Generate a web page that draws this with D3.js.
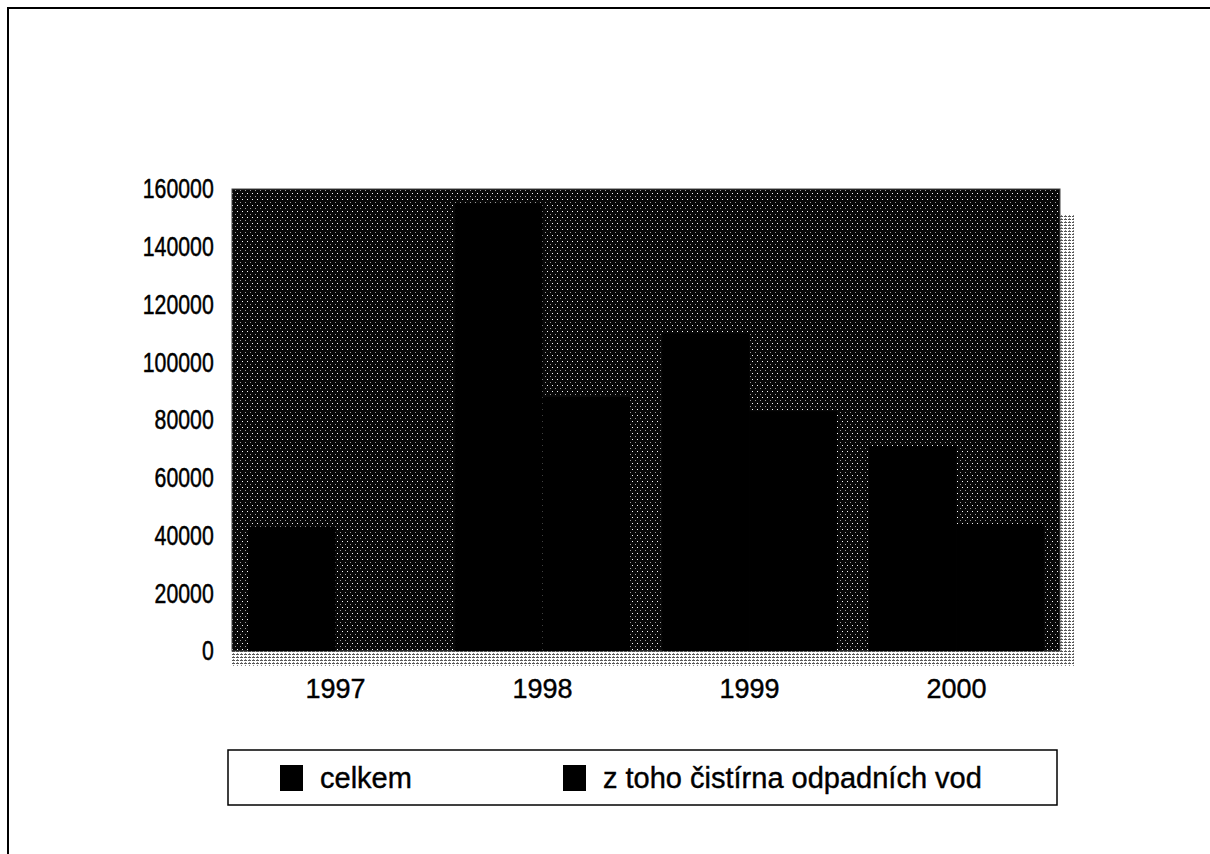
<!DOCTYPE html>
<html>
<head>
<meta charset="utf-8">
<script src="https://cdn.jsdelivr.net/npm/d3@7"></script>
<style>
  body { margin: 0; background: #fff; }
  text { font-family: "Liberation Sans", Arial, sans-serif; }
</style>
</head>
<body>
<div id="wrap"></div>
<script>
var years = ["1997", "1998", "1999", "2000"];
var celkem = [43000, 155000, 110000, 71000];
var cistirna = [0, 88000, 83000, 44000];
var seriesNames = ["celkem", "z toho čistírna odpadních vod"];
var yTicks = [0, 20000, 40000, 60000, 80000, 100000, 120000, 140000, 160000];

var W = 1210, H = 854;
var plotLeft = 232, plotRight = 1060, plotTop = 189, plotBottom = 651;

var svg = d3.select('#wrap')
  .append('svg')
  .attr("width", W)
  .attr("height", H);

// dither-like patterns (scanned grey fill)
var defs = svg.append("defs");
var wall = defs.append("pattern")
  .attr("id", "wall")
  .attr("patternUnits", "userSpaceOnUse")
  .attr("width", 5).attr("height", 6);
wall.append("rect").attr("width", 5).attr("height", 6).attr("fill", "#080808");
wall.append("rect").attr("x", 2).attr("y", 1).attr("width", 1).attr("height", 1).attr("fill", "#fff");
wall.append("rect").attr("x", 0).attr("y", 4).attr("width", 1).attr("height", 1).attr("fill", "#999");

var floor = defs.append("pattern")
  .attr("id", "floor")
  .attr("patternUnits", "userSpaceOnUse")
  .attr("width", 4).attr("height", 3);
floor.append("rect").attr("width", 4).attr("height", 3).attr("fill", "#fff");
floor.append("rect").attr("x", 0).attr("y", 0).attr("width", 3).attr("height", 1).attr("fill", "#555");
floor.append("rect").attr("x", 1).attr("y", 2).attr("width", 1).attr("height", 1).attr("fill", "#888");

// outer frame
svg.append("rect")
  .attr("x", 8).attr("y", 8)
  .attr("width", W).attr("height", H)
  .attr("fill", "none")
  .attr("stroke", "#000")
  .attr("stroke-width", 2);

var x0 = d3.scaleBand().domain(years).range([plotLeft, plotRight]).paddingInner(0.155).paddingOuter(0.078);
var x1 = d3.scaleBand().domain([0, 1]).range([0, x0.bandwidth()]);
var y = d3.scaleLinear().domain([0, 160000]).range([plotBottom, plotTop]);

// floor strip and side strip
svg.append("rect")
  .attr("x", plotLeft).attr("y", plotBottom)
  .attr("width", plotRight - plotLeft + 14).attr("height", 15)
  .attr("fill", "url(#floor)");
svg.append("rect")
  .attr("x", plotRight).attr("y", plotTop + 25)
  .attr("width", 14).attr("height", plotBottom - plotTop - 10)
  .attr("fill", "url(#floor)");

// plot area
svg.append("rect")
  .attr("x", plotLeft).attr("y", plotTop)
  .attr("width", plotRight - plotLeft).attr("height", plotBottom - plotTop)
  .attr("fill", "url(#wall)")
  .attr("stroke", "#444")
  .attr("stroke-width", 1);

// bars
var groups = svg.selectAll("g.year")
  .data(years)
  .enter().append("g")
  .attr("class", "year")
  .attr("transform", function (d) { return "translate(" + x0(d) + ",0)"; });

groups.append("rect")
  .attr("x", x1(0))
  .attr("width", x1.bandwidth())
  .attr("y", function (d, i) { return y(celkem[i]); })
  .attr("height", function (d, i) { return plotBottom - y(celkem[i]); })
  .attr("fill", "#000");

groups.append("rect")
  .attr("x", x1(1))
  .attr("width", x1.bandwidth())
  .attr("y", function (d, i) { return y(cistirna[i]); })
  .attr("height", function (d, i) { return plotBottom - y(cistirna[i]); })
  .attr("fill", "#000");

// y axis labels (slightly condensed digits as in the scan)
var yAxis = svg.append("g")
  .attr("transform", "translate(" + plotLeft + ",0)")
  .call(d3.axisLeft(y).tickValues(yTicks).tickSize(0).tickPadding(24).tickFormat(d3.format("d")));
yAxis.select(".domain").remove();
yAxis.selectAll("text")
  .attr("font-size", "28px")
  .attr("fill", "#000")
  .attr("stroke", "#000")
  .attr("stroke-width", 0.5)
  .attr("transform", "scale(0.76,1)")
  .attr("font-family", "'Liberation Sans', Arial, sans-serif");

// x axis labels
var xAxis = svg.append("g")
  .attr("transform", "translate(0," + plotBottom + ")")
  .call(d3.axisBottom(x0).tickSize(0).tickPadding(28));
xAxis.select(".domain").remove();
xAxis.selectAll("text")
  .attr("font-size", "27px")
  .attr("fill", "#000")
  .attr("stroke", "#000")
  .attr("stroke-width", 0.4)
  .attr("font-family", "'Liberation Sans', Arial, sans-serif");

// legend
var lg = svg.append("g");
lg.append("rect")
  .attr("x", 228).attr("y", 750)
  .attr("width", 829).attr("height", 55)
  .attr("fill", "#fff")
  .attr("stroke", "#000")
  .attr("stroke-width", 1.5);

var legendX = [280, 563];
seriesNames.forEach(function (name, i) {
  lg.append("rect")
    .attr("x", legendX[i]).attr("y", 765)
    .attr("width", 23).attr("height", 26)
    .attr("fill", "#000");
  lg.append("text")
    .attr("x", legendX[i] + 40).attr("y", 788)
    .attr("font-size", "29px")
    .attr("fill", "#000")
    .attr("stroke", "#000")
    .attr("stroke-width", 0.4)
    .text(name);
});
</script>
</body>
</html>
